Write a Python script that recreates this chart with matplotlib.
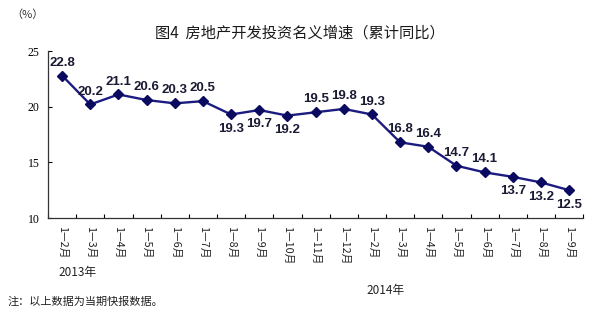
import matplotlib
matplotlib.use("Agg")
import matplotlib.pyplot as plt
import numpy as np

plt.rcParams['font.family'] = ['Noto Sans CJK SC', 'DejaVu Sans']

categories = ["1—2月", "1—3月", "1—4月", "1—5月", "1—6月", "1—7月", "1—8月", "1—9月",
              "1—10月", "1—11月", "1—12月",
              "1—2月", "1—3月", "1—4月", "1—5月", "1—6月", "1—7月", "1—8月", "1—9月"]
values = [22.8, 20.2, 21.1, 20.6, 20.3, 20.5, 19.3, 19.7, 19.2, 19.5, 19.8,
          19.3, 16.8, 16.4, 14.7, 14.1, 13.7, 13.2, 12.5]
label_pos = ["a", "a", "a", "a", "a", "a", "b", "b", "b", "a", "a",
             "a", "a", "a", "a", "a", "b", "b", "b"]
y_ticks = [10, 15, 20, 25]

fig = plt.figure(figsize=(6.0, 3.23), dpi=100)
ax = fig.add_axes([0.08, 0.325, 0.892, 0.517])

x = np.arange(len(values))
navy = "#1c1c80"
ax.plot(x, values, color=navy, lw=1.7, marker="D", ms=5, mfc="#0a0a60", mec="#0a0a60", zorder=3)

lab_font = dict(fontsize=9.5, fontweight="bold", color="#1a1a33",
                family=["Liberation Sans Narrow", "Liberation Sans"])
for xi, v, p in zip(x, values, label_pos):
    if p == "a":
        ax.annotate(f"{v:.1f}", (xi, v), xytext=(0, 5), textcoords="offset points",
                    ha="center", va="bottom", **lab_font)
    else:
        ax.annotate(f"{v:.1f}", (xi, v), xytext=(0, -6), textcoords="offset points",
                    ha="center", va="top", **lab_font)

ax.set_xlim(-0.5, len(values) - 0.5)
ax.set_ylim(10, 25)
ax.set_yticks(y_ticks)
ax.set_yticklabels([str(t) for t in y_ticks], family=["Liberation Serif"], fontsize=8.5)
ax.set_xticks(x)
ax.set_xticklabels(categories, rotation=-90, fontsize=7.8, color="#222222")
ax.set_xticks(np.arange(-0.5, len(values) - 0.4, 1), minor=True)
ax.tick_params(axis="x", which="major", length=0, pad=6)
ax.tick_params(axis="x", which="minor", length=3, direction="in", width=0.8)
ax.tick_params(axis="y", length=3, direction="in", width=0.8, pad=6)
for s in ["top", "right"]:
    ax.spines[s].set_visible(False)
for s in ["left", "bottom"]:
    ax.spines[s].set_linewidth(0.9)
    ax.spines[s].set_color("#333333")

fig.text(0.5, 0.898, "图4  房地产开发投资名义增速（累计同比）", ha="center", va="center",
         fontsize=11, color="#1a1a1a")
fig.text(0.045, 0.955, "（%）", ha="center", va="center", fontsize=8, color="#333333")
fig.text(0.13, 0.155, "2013年", ha="center", va="center", fontsize=8.5, color="#222222")
fig.text(0.642, 0.1, "2014年", ha="center", va="center", fontsize=8.5, color="#222222")
fig.text(0.012, 0.065, "注：以上数据为当期快报数据。", ha="left", va="center", fontsize=8, color="#222222")

fig.savefig("out.png", dpi=100)
